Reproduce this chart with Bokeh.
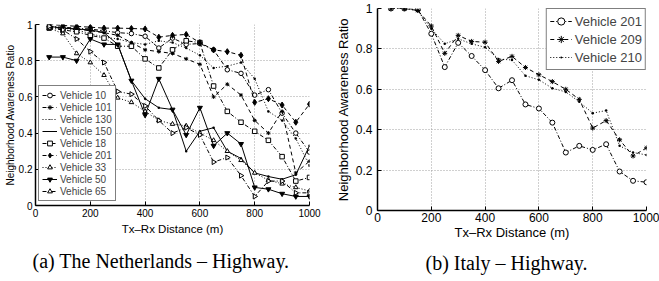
import math
from bokeh.plotting import figure
from bokeh.layouts import row
from bokeh.models import Range1d, Legend, LegendItem, Title, FixedTicker
from bokeh.embed import file_html
from bokeh.resources import INLINE

# ---------------- data ----------------
distance = [50, 100, 150, 200, 250, 300, 350, 400, 450, 500,
            550, 600, 650, 700, 750, 800, 850, 900, 950, 1000]

nl_names = ["Vehicle 10", "Vehicle 101", "Vehicle 130", "Vehicle 150", "Vehicle 18",
            "Vehicle 201", "Vehicle 33", "Vehicle 50", "Vehicle 65"]
nl_v10 = [0.99, 0.985, 0.98, 0.975, 0.965, 0.955, 0.95, 0.935, 0.87, 0.925,
          0.89, 0.895, 0.86, 0.75, 0.73, 0.61, 0.64, 0.51, 0.40, 0.295]
nl_v101 = [0.985, 0.98, 0.975, 0.965, 0.955, 0.94, 0.90, 0.86, 0.85, 0.84,
           0.81, 0.78, 0.60, 0.67, 0.61, 0.47, 0.40, 0.52, 0.18, 0.245]
nl_v130 = [0.99, 0.98, 0.97, 0.95, 0.93, 0.92, 0.90, 0.89, 0.91, 0.90,
           0.87, 0.83, 0.76, 0.77, 0.79, 0.70, 0.52, 0.47, 0.37, 0.22]
nl_v150 = [0.99, 0.98, 0.975, 0.97, 0.955, 0.89, 0.69, 0.59, 0.54, 0.53,
           0.30, 0.41, 0.43, 0.30, 0.26, 0.18, 0.16, 0.145, 0.17, 0.33]
nl_v18 = [0.98, 0.97, 0.96, 0.94, 0.925, 0.88, 0.88, 0.81, 0.76, 0.86,
          0.91, 0.90, 0.66, 0.52, 0.46, 0.41, 0.36, 0.27, 0.135, 0.155]
nl_v201 = [1.0, 0.995, 0.99, 0.985, 0.98, 0.98, 0.978, 0.975, 0.93, 0.94,
           0.945, 0.90, 0.86, 0.85, 0.83, 0.57, 0.59, 0.555, 0.46, 0.56]
nl_v33 = [0.98, 0.95, 0.84, 0.79, 0.72, 0.595, 0.57, 0.52, 0.47, 0.45,
          0.44, 0.40, 0.36, 0.30, 0.25, 0.18, 0.14, 0.12, 0.10, 0.08]
nl_v50 = [0.82, 0.82, 0.80, 0.92, 0.89, 0.89, 0.69, 0.50, 0.70, 0.53,
          0.39, 0.54, 0.33, 0.40, 0.34, 0.10, 0.09, 0.065, 0.05, 0.05]
nl_v65 = [0.99, 0.97, 0.92, 0.85, 0.79, 0.63, 0.615, 0.55, 0.47, 0.40,
          0.43, 0.39, 0.24, 0.265, 0.165, 0.05, 0.135, 0.135, 0.07, 0.07]

it_names = ["Vehicle 201", "Vehicle 209", "Vehicle 210"]
it_v201 = [1.0, 1.0, 0.995, 0.875, 0.71, 0.83, 0.765, 0.695, 0.605, 0.645,
           0.525, 0.505, 0.435, 0.287, 0.32, 0.30, 0.328, 0.193, 0.147, 0.14]
it_v209 = [1.0, 1.0, 0.99, 0.913, 0.778, 0.867, 0.837, 0.833, 0.738, 0.763,
           0.708, 0.672, 0.638, 0.60, 0.55, 0.408, 0.445, 0.35, 0.27, 0.31]
it_v210 = [1.0, 1.0, 0.99, 0.90, 0.825, 0.85, 0.825, 0.808, 0.75, 0.745,
           0.667, 0.647, 0.605, 0.587, 0.538, 0.482, 0.495, 0.32, 0.287, 0.275]

x_ticks = [0, 200, 400, 600, 800, 1000]
x_tick_labels = ["0", "200", "400", "600", "800", "1000"]
y_ticks = [0.0, 0.2, 0.4, 0.6, 0.8, 1.0]
y_tick_labels = ["0", "0.2", "0.4", "0.6", "0.8", "1"]

x_title = "Tx\u2013Rx Distance (m)"
y_title = "Neighborhood Awareness Ratio"
caption_a = "(a) The Netherlands \u2013 Highway."
caption_b = "(b) Italy \u2013 Highway."

SANS = "Liberation Sans"
SERIF = "Liberation Serif"

DASHED = "4 3"
DOTTED = "1 2"
DASHDOT = "4 2 1 2"

# style: dash, marker, size, fill, angle
nl_styles = [
    (DASHDOT, "circle", 4.5, "white", 0.0),
    (DASHED, "asterisk", 4, "black", 0.0),
    (DOTTED, "dot", 10, "black", 0.0),
    ("solid", "dot", 10, "black", 0.0),
    (DASHDOT, "square", 4.5, "white", 0.0),
    (DASHED, "diamond", 6, "black", 0.0),
    (DOTTED, "triangle", 4.5, "white", 0.0),
    ("solid", "inverted_triangle", 5, "black", 0.0),
    (DASHDOT, "triangle", 5, "white", -math.pi / 2),
]
it_styles = [
    (DASHDOT, "circle", 5, "white", 0.0),
    (DASHED, "asterisk", 5, "black", 0.0),
    (DOTTED, "dot", 10, "black", 0.0),
]


def make_fig(width, height, mb_left, mb_right, mb_top, mb_bottom,
             tick_size, xlabel_size, ylabel_size, ylab_standoff, ytick_standoff,
             xlab_standoff, xtick_standoff):
    p = figure(width=width, height=height, output_backend="svg",
               toolbar_location=None,
               x_range=Range1d(0, 1000), y_range=Range1d(0, 1),
               min_border_left=mb_left, min_border_right=mb_right,
               min_border_top=mb_top, min_border_bottom=mb_bottom)
    p.frame_align = False
    p.outline_line_color = None
    p.background_fill_color = "white"
    p.border_fill_color = "white"
    p.xaxis.ticker = FixedTicker(ticks=x_ticks)
    p.yaxis.ticker = FixedTicker(ticks=y_ticks)
    p.xgrid.ticker = FixedTicker(ticks=x_ticks)
    p.ygrid.ticker = FixedTicker(ticks=y_ticks)
    p.xaxis.major_label_overrides = {float(t): l for t, l in zip(x_ticks, x_tick_labels)}
    p.yaxis.major_label_overrides = {float(t): l for t, l in zip(y_ticks, y_tick_labels)}
    for ax in (p.xaxis[0], p.yaxis[0]):
        ax.axis_line_color = "black"
        ax.axis_line_width = 1.5
        ax.major_tick_in = 4
        ax.major_tick_out = 0
        ax.major_tick_line_color = "black"
        ax.minor_tick_line_color = None
        ax.major_label_text_font = SANS
        ax.major_label_text_font_size = tick_size
        ax.major_label_text_color = "black"
        ax.axis_label_text_font = SANS
        ax.axis_label_text_font_style = "normal"
        ax.axis_label_text_color = "black"
    p.xaxis.axis_label_text_font_size = xlabel_size
    p.yaxis.axis_label_text_font_size = ylabel_size
    p.xaxis.axis_label = x_title
    p.yaxis.axis_label = y_title
    p.yaxis.axis_label_standoff = ylab_standoff
    p.yaxis.major_label_standoff = ytick_standoff
    p.xaxis.axis_label_standoff = xlab_standoff
    p.xaxis.major_label_standoff = xtick_standoff
    p.grid.grid_line_color = "#a0a0a0"
    p.grid.grid_line_dash = "1 2"
    p.grid.grid_line_width = 1
    return p


def add_series(p, names, series, styles):
    items = []
    for name, ys, (dash, marker, msize, fill, ang) in zip(names, series, styles):
        r1 = p.line(distance, ys, line_color="black", line_width=1, line_dash=dash)
        r2 = p.scatter(distance, ys, marker=marker, size=msize, line_color="black",
                       fill_color=fill, line_width=1, angle=ang)
        items.append(LegendItem(label=name, renderers=[r1, r2]))
    return items


# ---------------- left: The Netherlands ----------------
p1 = make_fig(330, 281, 35, 21, 24, 0, "10px", "11.5px", "10px", 0, 3, 3, 3)
items1 = add_series(p1, nl_names,
                    [nl_v10, nl_v101, nl_v130, nl_v150, nl_v18, nl_v201, nl_v33, nl_v50, nl_v65],
                    nl_styles)
leg1 = Legend(items=items1, location=(3, 4), orientation="vertical",
              label_text_font=SANS, label_text_font_size="10px",
              label_height=12, glyph_height=12, glyph_width=15, spacing=0,
              padding=3, margin=0, label_standoff=3,
              border_line_color="black", border_line_width=1.5,
              background_fill_color="white", background_fill_alpha=1.0)
p1.add_layout(leg1)
p1.add_layout(Title(text=caption_a, align="left", offset=-3, standoff=20,
                    text_font=SERIF, text_font_size="20px", text_font_style="normal",
                    text_color="black"), "below")

# ---------------- right: Italy ----------------
p2 = make_fig(329, 281, 47, 13, 8, 0, "12px", "13px", "13px", 2, 5, 0, 2)
items2 = add_series(p2, it_names, [it_v201, it_v209, it_v210], it_styles)
leg2 = Legend(items=items2, location="top_right", orientation="vertical",
              label_text_font=SANS, label_text_font_size="13px",
              label_height=18, glyph_height=18, glyph_width=22, spacing=0,
              padding=3, margin=0, label_standoff=3,
              border_line_color="black", border_line_width=1.5,
              background_fill_color="white", background_fill_alpha=1.0)
p2.add_layout(leg2)
p2.add_layout(Title(text=caption_b, align="left", offset=48, standoff=15,
                    text_font=SERIF, text_font_size="20px", text_font_style="normal",
                    text_color="black"), "below")

layout = row(p1, p2)
open("out.html", "w").write(file_html(layout, INLINE))
